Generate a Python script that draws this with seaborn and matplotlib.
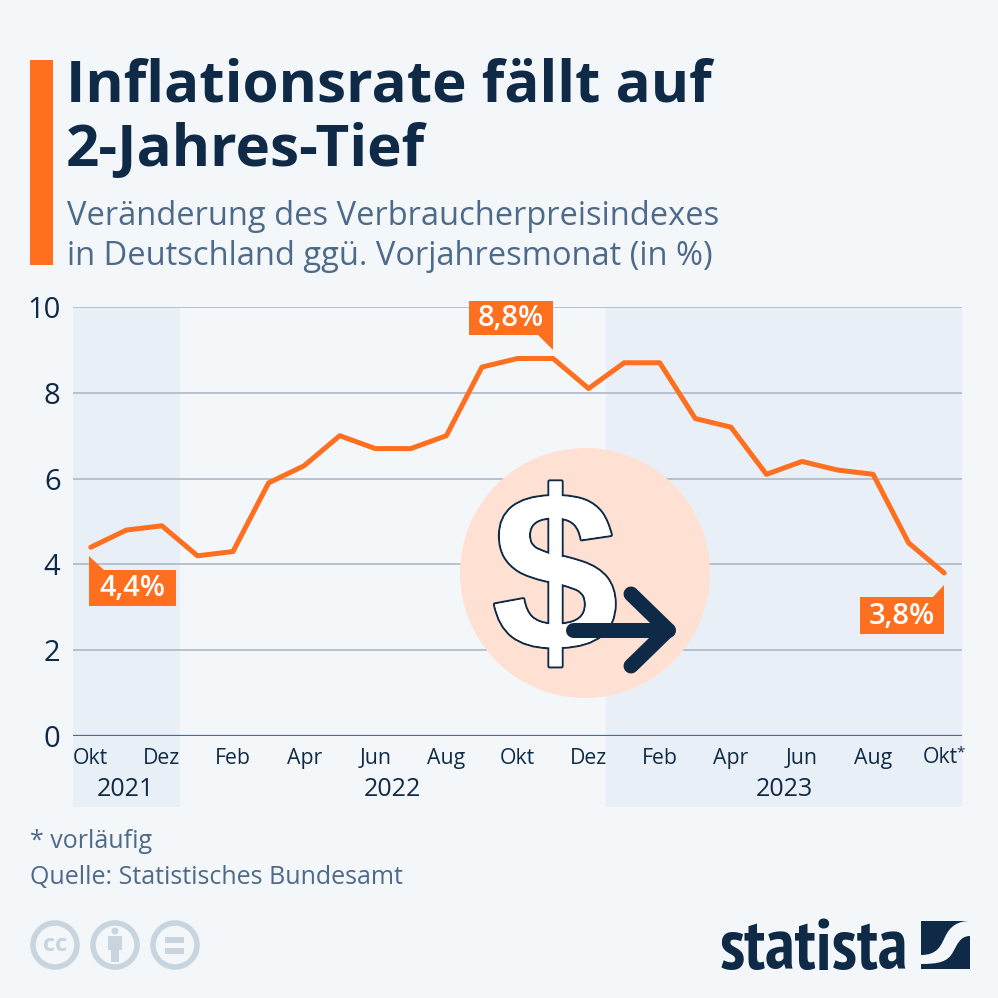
import matplotlib
matplotlib.use("Agg")
import matplotlib.pyplot as plt
import matplotlib.patheffects as pe
from matplotlib import font_manager as fm
from matplotlib.textpath import TextPath
from matplotlib.patches import Rectangle, Circle, Polygon, PathPatch
from matplotlib.path import Path
from matplotlib.transforms import blended_transform_factory
import seaborn as sns
import pandas as pd

months = ["Okt", "Nov", "Dez", "Jan", "Feb", "Mär", "Apr", "Mai", "Jun", "Jul", "Aug", "Sep", "Okt",
          "Nov", "Dez", "Jan", "Feb", "Mär", "Apr", "Mai", "Jun", "Jul", "Aug", "Sep", "Okt"]
rate = [4.4, 4.8, 4.9, 4.2, 4.3, 5.9, 6.3, 7.0, 6.7, 6.7, 7.0, 8.6, 8.8,
        8.8, 8.1, 8.7, 8.7, 7.4, 7.2, 6.1, 6.4, 6.2, 6.1, 4.5, 3.8]
years = ["2021", "2022", "2023"]
yticks = [0, 2, 4, 6, 8, 10]

BG = "#f4f7fa"
NAVY = "#0f2a47"
ORANGE = "#ff6f20"
SUB = "#4e6a8a"
GRID = "#a9b3c3"
BAND = "#e9eff6"
PEACH = "#ffe1d3"
ICON = "#c8d4de"
FONT = "Open Sans"

sns.set_theme(style="white")
plt.rcParams["font.family"] = [FONT, "DejaVu Sans"]

fig = plt.figure(figsize=(9.98, 9.98), dpi=100, facecolor=BG)
W = H = 998
ax = fig.add_axes([73 / W, 1 - 736 / H, 889 / W, 429 / H], facecolor="none")

df = pd.DataFrame({"i": range(len(rate)), "rate": rate})
trans = blended_transform_factory(ax.transData, ax.transAxes)
for a, b in [(-0.5, 2.5), (14.5, 24.5)]:
    ax.add_patch(Rectangle((a, -71 / 429), b - a, 1 + 71 / 429, transform=trans,
                           facecolor=BAND, edgecolor="none", clip_on=False, zorder=0))
for v in yticks[1:]:
    ax.axhline(v, color=GRID, lw=1.1, zorder=1)
ax.axhline(0, color=SUB, lw=1.6, zorder=1.5)
sns.lineplot(data=df, x="i", y="rate", color=ORANGE, lw=3.6, ax=ax, zorder=3,
             solid_capstyle="round", solid_joinstyle="round", errorbar=None)
ax.set_xlim(-0.5, 24.5)
ax.set_ylim(0, 10)
ax.set_xlabel("")
ax.set_ylabel("")
for s in ax.spines.values():
    s.set_visible(False)
ax.set_yticks(yticks)
ax.set_yticklabels([str(v) for v in yticks], fontsize=21, color=NAVY)
xt = list(range(0, 24, 2))
ax.set_xticks(xt)
ax.set_xticklabels([months[i] for i in xt], fontsize=15.3, color=NAVY)
ax.tick_params(axis="x", length=0, pad=8.5)
ax.tick_params(axis="y", length=0, pad=9)

o = fig.add_axes([0, 0, 1, 1], facecolor="none", zorder=5)
o.set_xlim(0, W)
o.set_ylim(H, 0)
o.axis("off")

# header
o.add_patch(Rectangle((30, 60), 23, 205, fc=ORANGE, ec="none"))
o.text(66, 86, "Inflationsrate fällt auf", fontsize=42.05, fontweight="bold", color=NAVY, va="center", ha="left")
o.text(66, 151, "2-Jahres-Tief", fontsize=42.05, fontweight="bold", color=NAVY, va="center", ha="left")
o.text(67, 216, "Veränderung des Verbraucherpreisindexes", fontsize=23.5, color=SUB, va="center", ha="left")
o.text(67, 256, "in Deutschland ggü. Vorjahresmonat (in %)", fontsize=23.5, color=SUB, va="center", ha="left")

# last x label with its asterisk, years
o.text(940, 757.5, months[-1], fontsize=15.3, color=NAVY, ha="center", va="center")
o.text(961, 753, "*", fontsize=11, color=NAVY, ha="center", va="center")
for t, x in zip(years, [125, 392, 784]):
    o.text(x, 790, t, fontsize=18, color=NAVY, ha="center", va="center")

# callouts
def callout(x0, y0, x1, y1, tri, label):
    o.add_patch(Rectangle((x0, y0), x1 - x0, y1 - y0, fc=ORANGE, ec="none"))
    o.add_patch(Polygon(tri, closed=True, fc=ORANGE, ec="none"))
    o.text((x0 + x1) / 2, (y0 + y1) / 2 + 0.5, label, color="white", fontsize=21, fontweight="semibold",
           ha="center", va="center")

callout(89, 570, 176, 606, [(89, 571), (89, 556), (105, 571)], f"{rate[0]:.1f}%".replace(".", ","))
callout(469, 301, 553, 335, [(553, 334), (553, 350), (537, 334)], f"{max(rate):.1f}%".replace(".", ","))
callout(860, 597, 944, 634, [(944, 598), (944, 585), (932, 598)], f"{rate[-1]:.1f}%".replace(".", ","))

# dollar icon
o.add_patch(Circle((585, 573), 125, fc=PEACH, ec="none"))
o.text(555, 591, "$", fontsize=163, fontweight="bold", family="Liberation Sans", fontstyle="normal", color="white",
       ha="center", va="center", zorder=3,
       path_effects=[pe.withStroke(linewidth=3, foreground=NAVY), pe.Normal()])
o.plot([573, 668], [630, 630], color=NAVY, lw=10.8, solid_capstyle="round", zorder=4)
o.plot([631, 668, 631], [594, 630, 666], color=NAVY, lw=10.8, solid_capstyle="round", solid_joinstyle="round", zorder=4)

# footer
o.text(30, 842, "* vorläufig", fontsize=18, color=SUB, va="center", ha="left")
o.text(30, 877, "Quelle: Statistisches Bundesamt", fontsize=18, color=SUB, va="center", ha="left")

for cx in (55, 115, 175):
    o.add_patch(Circle((cx, 945), 22, fc="none", ec=ICON, lw=4))
o.text(55, 945, "cc", fontsize=17, fontweight="bold", color=ICON, ha="center", va="center")
o.add_patch(Circle((115, 931), 3.5, fc=ICON, ec="none"))
o.add_patch(Rectangle((108, 936), 14, 14, fc=ICON, ec="none"))
o.add_patch(Rectangle((111, 950), 8, 12, fc=ICON, ec="none"))
o.add_patch(Rectangle((165, 937), 19, 5.5, fc=ICON, ec="none"))
o.add_patch(Rectangle((165, 948), 19, 5.5, fc=ICON, ec="none"))

# logo: a condensed bold face if one is installed, sized to the logo width
LOGO = "statista"
def logo_font():
    cands = [f for f in fm.fontManager.ttflist
             if ("Narrow" in f.name or "Condensed" in f.name or "condensed" in str(f.stretch))
             and f.style == "normal" and str(f.weight) in ("bold", "700", "semibold", "600", "heavy", "800")]
    cands.sort(key=lambda f: (0 if "Narrow" in f.name else 1 if "Roboto" in f.name else 2 if "Open Sans" in f.name else 3, f.name))
    if cands:
        return fm.FontProperties(fname=cands[0].fname)
    return fm.FontProperties(family="Liberation Sans", weight="bold")
lf = logo_font()
ext = TextPath((0, 0), LOGO, size=100, prop=lf).get_extents()
lsize = 100 * (185 / ext.width) * 0.72
o.text(720, 969, LOGO, fontproperties=lf, fontsize=lsize, color=NAVY, ha="left", va="baseline")
o.add_patch(Rectangle((921, 921), 49, 48, fc=NAVY, ec="none"))
verts = [(921, 955), (938, 955), (941, 945), (945, 937), (950, 926), (958, 921), (970, 921),
         (970, 936), (960, 936), (957, 945), (953, 952), (948, 962), (938, 964), (921, 964), (921, 955)]
codes = [Path.MOVETO, Path.CURVE4, Path.CURVE4, Path.CURVE4, Path.CURVE4, Path.CURVE4, Path.CURVE4,
         Path.LINETO, Path.CURVE4, Path.CURVE4, Path.CURVE4, Path.CURVE4, Path.CURVE4, Path.CURVE4, Path.CLOSEPOLY]
o.add_patch(PathPatch(Path(verts, codes), fc=BG, ec="none"))

fig.savefig("out.png", dpi=100, facecolor=BG)
